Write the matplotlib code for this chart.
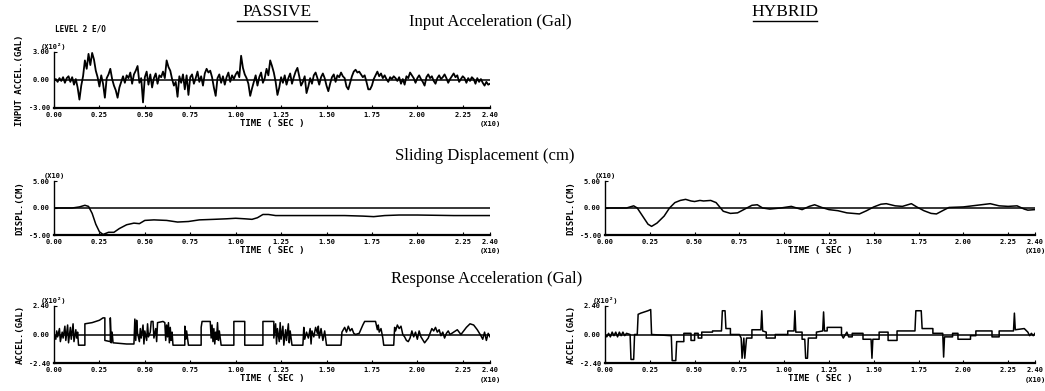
import matplotlib
matplotlib.use("Agg")
import matplotlib.pyplot as plt
from matplotlib.lines import Line2D
import numpy as np

# input acceleration (x10^2 Gal), sampled every 0.01 (x10 sec)
input_accel = [
    0.0, 0.1, -0.2, 0.2, -0.1, 0.3, -0.3, 0.2, 0.4, -0.2,
    0.3, -0.5, 0.1, -0.8, -2.1, -0.6, 0.4, 2.1, 1.2, 2.8,
    1.6, 2.9, 2.2, 1.0, 0.3, -0.7, 0.5, -0.4, -1.9, 0.2,
    0.6, 1.2, 0.1, -0.6, -1.1, -1.9, -0.8, -0.2, 0.4, -0.3,
    0.5, 0.2, 0.8, -0.4, 0.6, 1.0, 1.5, -0.3, 0.2, -2.4,
    0.3, 0.9, -0.5, 0.6, -0.8, 0.2, 0.7, -0.4, 0.5, 0.3,
    0.9, 0.2, 2.1, 1.4, 1.0, 0.1, -0.6, -0.2, -1.8, 0.4,
    -0.3, 0.6, -1.0, 0.5, -1.6, 0.3, 0.6, -0.4, 0.2, 0.9,
    -0.2, 0.4, -0.6, 0.7, 1.2, 0.8, 1.0, 0.3, -0.8, -1.7,
    0.2, 0.6, -0.3, 0.4, -0.5, 0.3, 0.8, -0.2, 0.5, 0.1,
    0.6, 0.9, 0.3, 2.6, 1.3, 0.6, 0.2, -0.4, -1.7, -0.9,
    -0.2, 0.5, -0.6, 0.3, 0.8, -0.3, 0.2, 1.2, 0.5, 2.1,
    1.5, 0.8, -0.2, -1.6, -0.8, 0.3, -0.3, 0.5, -0.5, 0.2,
    0.7, -0.4, 0.3, 0.9, 1.3, 0.4, -0.6, -0.2, 0.4, -1.4,
    -0.7, 0.2, -0.4, 0.5, 0.8, 0.2, -0.5, 0.3, 0.7, 0.2,
    -0.6, -1.2, -0.4, 0.3, 0.6, -0.2, 0.5, 0.3, 0.8, 0.4,
    0.2, -0.7, -1.0, -0.3, 0.4, 0.9, 1.1, 0.8, 0.9, 0.6,
    0.3, 0.5, -0.2, -1.0, -1.0, -0.6, 0.1, 0.5, 0.9, 0.4,
    0.7, 0.2, 0.5, 0.1, -0.2, 0.3, 0.1, 0.4, 0.2, -0.1,
    0.3, -0.4, 0.1, -0.5, 0.4, 0.2, 0.8, 0.5, 0.2, -0.3,
    0.2, 0.5, 0.1, -0.2, -0.6, 0.3, 0.6, 0.2, 0.4, -0.1,
    -0.4, 0.2, 0.5, 0.1, 0.3, 0.6, 0.2, -0.3, 0.1, 0.4,
    0.7, 0.3, 0.5, -0.2, 0.1, 0.4, 0.2, -0.3, 0.2, -0.1,
    0.3, 0.1, -0.4, 0.2, -0.2, 0.1, -0.3, -0.6, -0.2, -0.5,
    -0.4,
]

# sliding displacement (x10 cm), (time, value)
disp_passive = [
    (0.00, 0.0), (0.10, 0.0), (0.14, 0.2), (0.17, 0.5), (0.19, 0.3),
    (0.21, -1.0), (0.23, -3.0), (0.25, -4.4), (0.27, -4.9), (0.30, -4.5),
    (0.33, -4.5), (0.36, -3.8), (0.40, -3.1), (0.44, -2.8), (0.47, -2.9),
    (0.50, -2.3), (0.55, -2.2), (0.62, -2.3), (0.68, -2.6), (0.74, -2.5),
    (0.80, -2.2), (0.88, -2.1), (0.95, -2.0), (1.00, -1.9), (1.05, -2.0),
    (1.09, -2.1), (1.12, -1.8), (1.15, -1.2), (1.18, -1.2), (1.22, -1.4),
    (1.30, -1.4), (1.45, -1.4), (1.60, -1.4), (1.70, -1.5), (1.76, -1.6),
    (1.82, -1.4), (1.90, -1.3), (2.00, -1.3), (2.20, -1.4), (2.40, -1.4),
]
disp_hybrid = [
    (0.00, 0.0), (0.12, 0.0), (0.16, 0.4), (0.18, 0.0), (0.21, -1.5),
    (0.24, -3.0), (0.26, -3.4), (0.29, -2.8), (0.33, -1.5), (0.36, 0.0),
    (0.39, 1.0), (0.42, 1.4), (0.45, 1.6), (0.48, 1.3), (0.50, 1.2),
    (0.53, 1.4), (0.55, 1.3), (0.59, 1.4), (0.62, 1.0), (0.66, -0.6),
    (0.70, -1.0), (0.74, -0.9), (0.78, -0.2), (0.82, 0.5), (0.85, 0.6),
    (0.88, 0.0), (0.92, -0.2), (0.98, 0.0), (1.04, 0.3), (1.07, 0.0),
    (1.10, -0.3), (1.14, 0.3), (1.17, 0.6), (1.21, 0.1), (1.25, -0.3),
    (1.30, -0.5), (1.35, -0.9), (1.42, -1.1), (1.46, -0.5), (1.50, 0.2),
    (1.54, 0.7), (1.57, 0.8), (1.62, 0.4), (1.66, 0.3), (1.71, 0.8),
    (1.74, 0.2), (1.78, -0.5), (1.82, -1.0), (1.85, -1.1), (1.89, -0.4),
    (1.92, 0.1), (2.00, 0.2), (2.05, 0.4), (2.10, 0.6), (2.15, 0.8),
    (2.20, 0.4), (2.25, 0.3), (2.30, 0.4), (2.34, -0.2), (2.36, -0.4),
    (2.40, -0.3),
]

# response acceleration (x10^2 Gal), (time, value)
resp_passive = [
    (0.00, 0.0), (0.01, -0.4), (0.015, 0.3), (0.02, -0.2), (0.03, 0.5),
    (0.035, -0.6), (0.045, 0.2), (0.05, -0.3), (0.06, 0.7), (0.065, -0.5),
    (0.075, 0.8), (0.08, -0.7), (0.09, 0.6), (0.095, -0.4), (0.105, 0.9),
    (0.11, -0.6), (0.12, 0.4), (0.125, -0.3), (0.13, 0.2), (0.135, -0.9),
    (0.17, -0.9), (0.17, 0.9), (0.21, 1.0), (0.25, 1.2), (0.27, 1.4),
    (0.28, 1.4), (0.28, -0.5), (0.31, -0.6), (0.31, 1.4), (0.315, -0.7),
    (0.32, 0.2), (0.325, -0.7), (0.40, -0.8), (0.44, -0.8), (0.445, 1.3),
    (0.45, -0.5), (0.455, 1.2), (0.46, 0.1), (0.47, -0.6), (0.475, 0.5),
    (0.48, -0.3), (0.49, 0.8), (0.495, -0.8), (0.50, 0.3), (0.51, -0.5),
    (0.515, 0.9), (0.52, -0.2), (0.53, 0.2), (0.535, 1.1), (0.545, 1.1),
    (0.55, -0.3), (0.56, 0.5), (0.565, -0.6), (0.57, 1.0), (0.60, 1.1),
    (0.61, 1.0), (0.615, -0.5), (0.62, 0.8), (0.625, -0.2), (0.63, 1.0),
    (0.635, -0.7), (0.64, 0.6), (0.645, -0.5), (0.65, 0.2), (0.655, -0.9),
    (0.72, -0.9), (0.72, 0.7), (0.725, -0.4), (0.73, 0.3), (0.74, -0.9),
    (0.81, -0.9), (0.81, 0.6), (0.815, 1.1), (0.86, 1.1), (0.865, -0.3),
    (0.87, 0.8), (0.875, -0.6), (0.88, 0.5), (0.885, -0.8), (0.89, 0.2),
    (0.895, -0.4), (0.90, 1.0), (0.905, -0.5), (0.91, 0.3), (0.92, -0.9),
    (0.99, -0.9), (0.99, 1.1), (1.05, 1.1), (1.05, -0.9), (1.15, -0.9),
    (1.15, 1.1), (1.21, 1.1), (1.21, -0.3), (1.22, 0.9), (1.225, -0.8),
    (1.23, 0.5), (1.24, -0.6), (1.245, 1.0), (1.25, -0.4), (1.26, 0.7),
    (1.265, -0.9), (1.275, 0.4), (1.28, -0.5), (1.29, 0.9), (1.295, -0.7),
    (1.30, 0.3), (1.31, -0.9), (1.37, -0.9), (1.375, 0.6), (1.38, -0.4),
    (1.39, 0.2), (1.40, -0.3), (1.41, 0.5), (1.415, -0.8), (1.42, 0.3),
    (1.43, -0.2), (1.44, 0.6), (1.45, 0.1), (1.455, 0.7), (1.46, -0.3),
    (1.47, 0.5), (1.48, -0.5), (1.49, 0.3), (1.50, -0.9), (1.58, -0.9),
    (1.585, 0.2), (1.60, 0.6), (1.61, 0.2), (1.62, 0.7), (1.63, 0.3),
    (1.64, 0.5), (1.65, 0.1), (1.66, 0.0), (1.68, 0.1), (1.70, 0.8),
    (1.71, 1.1), (1.77, 1.1), (1.78, 0.4), (1.785, 0.8), (1.79, 0.2),
    (1.80, 0.5), (1.81, -0.3), (1.815, -0.9), (1.87, -0.9), (1.875, 0.6),
    (1.88, 0.3), (1.89, 0.8), (1.90, 0.5), (1.91, 0.7), (1.92, 0.0),
    (1.93, -0.2), (1.94, -0.5), (1.95, -0.6), (1.96, -0.3), (1.97, 0.3),
    (1.98, -0.2), (1.99, 0.2), (2.00, -0.4), (2.01, 0.3), (2.02, -0.2),
    (2.04, -0.7), (2.05, -0.5), (2.06, -0.3), (2.07, 0.1), (2.08, 0.5),
    (2.09, 0.3), (2.10, 0.6), (2.11, 0.2), (2.12, 0.4), (2.13, -0.1),
    (2.14, 0.2), (2.15, -0.3), (2.16, 0.1), (2.17, 0.3), (2.18, 0.0),
    (2.20, 0.2), (2.22, 0.4), (2.24, 0.0), (2.25, 0.2), (2.27, 0.6),
    (2.29, 0.9), (2.31, 0.8), (2.33, 0.4), (2.35, -0.1), (2.36, -0.4),
    (2.37, 0.2), (2.38, -0.5), (2.39, 0.1), (2.40, -0.2),
]
resp_hybrid = [
    (0.00, 0.0), (0.01, -0.2), (0.02, 0.1), (0.03, -0.2), (0.04, 0.2),
    (0.05, -0.1), (0.06, 0.2), (0.07, -0.2), (0.08, 0.2), (0.09, -0.1),
    (0.10, 0.2), (0.11, -0.1), (0.12, 0.1), (0.14, 0.0), (0.145, -2.1),
    (0.16, -2.1), (0.165, 0.0), (0.18, 0.0), (0.185, 1.7), (0.20, 1.8),
    (0.24, 2.0), (0.255, 2.1), (0.26, 0.0), (0.37, -0.1), (0.375, -2.2),
    (0.395, -2.2), (0.40, -0.6), (0.44, -0.6), (0.44, 0.1), (0.48, 0.1),
    (0.48, -0.5), (0.50, -0.5), (0.50, 0.1), (0.52, 0.1), (0.52, -0.3),
    (0.54, -0.3), (0.54, 0.2), (0.60, 0.2), (0.60, 0.3), (0.65, 0.3),
    (0.655, 2.0), (0.67, 2.0), (0.675, 0.5), (0.70, 0.5), (0.70, 0.0),
    (0.75, 0.0), (0.76, -0.3), (0.765, -2.0), (0.775, -0.3), (0.78, -2.0),
    (0.79, -0.3), (0.82, -0.3), (0.82, 0.4), (0.87, 0.4), (0.875, 2.0),
    (0.88, 0.3), (0.90, 0.2), (0.90, -0.3), (0.95, -0.3), (0.95, 0.0),
    (1.02, 0.0), (1.02, 0.3), (1.055, 0.3), (1.06, 2.0), (1.065, 0.2),
    (1.10, 0.2), (1.10, -0.4), (1.115, -0.4), (1.12, -2.0), (1.13, -2.0),
    (1.135, -0.3), (1.18, -0.3), (1.18, 0.2), (1.215, 0.3), (1.22, 1.9),
    (1.225, 0.3), (1.24, 0.3), (1.24, 0.6), (1.32, 0.6), (1.32, 0.0),
    (1.33, -0.3), (1.35, 0.2), (1.36, -0.2), (1.38, -0.2), (1.38, 0.1),
    (1.44, 0.1), (1.44, -0.4), (1.485, -0.4), (1.49, -2.0), (1.495, -0.4),
    (1.53, -0.4), (1.53, 0.2), (1.58, 0.2), (1.58, -0.5), (1.63, -0.5),
    (1.63, 0.3), (1.73, 0.3), (1.735, 2.0), (1.765, 2.0), (1.77, 0.5),
    (1.83, 0.5), (1.83, 0.1), (1.885, 0.1), (1.89, -1.9), (1.895, -0.2),
    (1.94, -0.2), (1.94, 0.1), (1.97, 0.1), (1.97, -0.4), (2.04, -0.4),
    (2.04, -0.1), (2.07, -0.1), (2.07, 0.3), (2.16, 0.3), (2.16, -0.2),
    (2.20, -0.2), (2.20, 0.3), (2.28, 0.3), (2.285, 1.8), (2.29, 0.4),
    (2.34, 0.5), (2.36, 0.2), (2.37, -0.1), (2.38, 0.1), (2.39, -0.1),
    (2.40, 0.1),
]

x_ticks = [0.0, 0.25, 0.5, 0.75, 1.0, 1.25, 1.5, 1.75, 2.0, 2.25, 2.4]
x_ticklabels = ["0.00", "0.25", "0.50", "0.75", "1.00", "1.25", "1.50",
                "1.75", "2.00", "2.25", "2.40"]

W, H = 1045, 391
fig = plt.figure(figsize=(W / 100, H / 100), dpi=100)
fig.patch.set_facecolor("white")

MONO = dict(family="DejaVu Sans Mono", weight="bold")
SERIF = "Liberation Serif"


def px_axes(x0, y0, x1, y1):
    return fig.add_axes([x0 / W, 1 - y1 / H, (x1 - x0) / W, (y1 - y0) / H])


def scope(ax, lim, ylabel, mult, ylabel_size=6.5):
    ax.set_xlim(0, 2.4)
    ax.set_ylim(-lim, lim)
    ax.axhline(0, color="black", lw=1.1, zorder=1)
    for s in ["top", "right"]:
        ax.spines[s].set_visible(False)
    ax.spines["bottom"].set_linewidth(1.6)
    ax.spines["left"].set_linewidth(1.0)
    ax.set_xticks(x_ticks)
    ax.set_xticklabels(x_ticklabels)
    ax.set_yticks([-lim, 0, lim])
    ax.set_yticklabels(["%.2f" % -lim, "0.00", "%.2f" % lim])
    ax.tick_params(direction="in", length=2.5, width=0.8, labelsize=5)
    ax.tick_params(axis="x", pad=3)
    ax.tick_params(axis="y", pad=3)
    for lab in ax.get_xticklabels() + ax.get_yticklabels():
        lab.set_fontfamily("DejaVu Sans Mono")
        lab.set_fontweight("bold")
    ax.set_xlabel("TIME ( SEC )", fontsize=6.5, labelpad=0.5, **MONO)
    ax.set_ylabel(ylabel, fontsize=ylabel_size, labelpad=3, **MONO)
    ax.text(0, 1.04, mult, transform=ax.transAxes, ha="center",
            va="bottom", fontsize=5, **MONO)
    ax.text(1.0, -0.24, "(X10)", transform=ax.transAxes, ha="center",
            va="top", fontsize=5, **MONO)
    ax.patch.set_alpha(0)


def underline_title(text, xc, y, width):
    fig.text(xc / W, 1 - y / H, text, ha="center", va="center",
             fontsize=12.5, family=SERIF)
    fig.add_artist(Line2D([(xc - width / 2) / W, (xc + width / 2) / W],
                          [1 - (y + 9) / H, 1 - (y + 9) / H],
                          color="black", lw=1.0))


PX0, PX1 = 54, 490
HX0, HX1 = 605, 1035

# input acceleration (passive only)
ax1 = px_axes(PX0, 52, PX1, 108)
t_in = np.linspace(0, 2.4, len(input_accel))
ax1.plot(t_in, input_accel, color="black", lw=1.3)
scope(ax1, 3.0, "INPUT ACCEL.(GAL)", "(X10²)", 6.5)

# sliding displacement
for (x0, x1), data in [((PX0, PX1), disp_passive), ((HX0, HX1), disp_hybrid)]:
    ax = px_axes(x0, 181, x1, 235)
    t, v = zip(*data)
    ax.plot(t, v, color="black", lw=1.1)
    scope(ax, 5.0, "DISPL.(CM)", "(X10)")

# response acceleration
for (x0, x1), data in [((PX0, PX1), resp_passive), ((HX0, HX1), resp_hybrid)]:
    ax = px_axes(x0, 306, x1, 363)
    t, v = zip(*data)
    ax.plot(t, v, color="black", lw=1.1)
    scope(ax, 2.4, "ACCEL.(GAL)", "(X10²)")

underline_title("PASSIVE", 277, 12, 80)
underline_title("HYBRID", 785, 12, 64)
fig.text(490 / W, 1 - 22 / H, "Input Acceleration (Gal)", ha="center",
         va="center", fontsize=12, family=SERIF)
fig.text(485 / W, 1 - 156 / H, "Sliding Displacement (cm)", ha="center",
         va="center", fontsize=12, family=SERIF)
fig.text(487 / W, 1 - 279 / H, "Response Acceleration (Gal)", ha="center",
         va="center", fontsize=12, family=SERIF)
fig.text(55 / W, 1 - 29 / H, "LEVEL 2 E/O", ha="left", va="center",
         fontsize=5.5, **MONO)

fig.savefig("out.png", dpi=100)
